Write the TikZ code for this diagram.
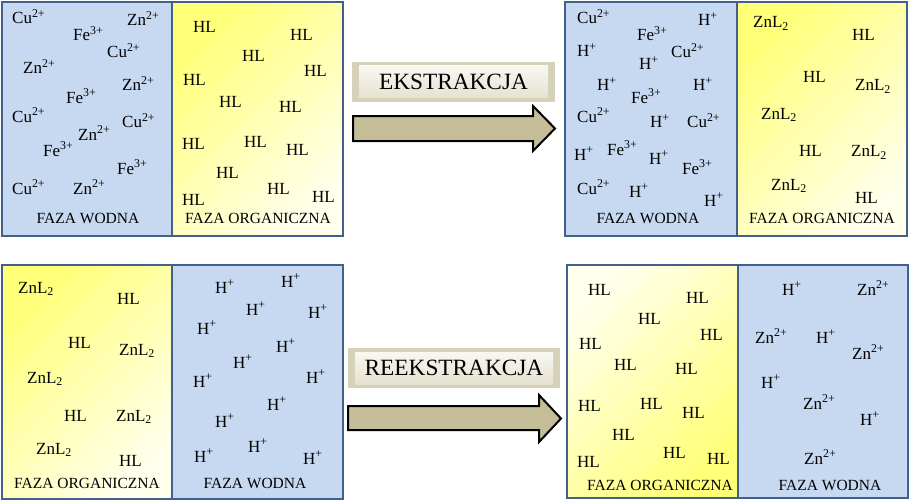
\documentclass[tikz,border=0pt]{standalone}
\usepackage{fontspec}
\setmainfont{Liberation Serif}
\definecolor{wblue}{HTML}{C6D9F1}
\definecolor{rblue}{HTML}{41618C}
\definecolor{oyel}{HTML}{FFFF78}
\definecolor{oyelb}{HTML}{FFFFEC}
\definecolor{arrtan}{HTML}{C4BD97}
\definecolor{bevel}{HTML}{D6D1B9}
\definecolor{facetop}{HTML}{F8F7F1}
\definecolor{facebot}{HTML}{E6E2D1}
\newcommand\ionCu{Cu\textsuperscript{2+}}
\newcommand\ionZn{Zn\textsuperscript{2+}}
\newcommand\ionFe{Fe\textsuperscript{3+}}
\newcommand\ionH{H\textsuperscript{+}}
\newcommand\ligHL{HL}
\newcommand\ligZn{ZnL\textsubscript{2}}
\begin{document}
\begin{tikzpicture}[x=1pt, y=-1pt,
    ion/.style={anchor=base west, inner sep=0pt, text=black, font=\fontsize{17}{20}\selectfont},
    faza/.style={anchor=base, inner sep=0pt, text=black, font=\fontsize{15.5}{18}\selectfont},
    wodna/.style={fill=wblue},
    org/.style={top color=oyel, bottom color=oyelb, shading angle=#1},
    ramka/.style={draw=rblue, line width=2.5pt},
    strzalka/.style={draw=black, line width=2pt, fill=arrtan, line join=miter},
    etykieta/.style={inner sep=0pt, text=black, font=\fontsize{23.3}{27}\selectfont}]
  \useasboundingbox (0,0) rectangle (911,503);

  \fill[wodna] (2,2) rectangle (172,236);
  \shade[org=45] (172,2) rectangle (343,236);
  \draw[ramka] (2,2) rectangle (343,236) (172,2) -- (172,236);

  \fill[wodna] (565,2) rectangle (737,236);
  \shade[org=45] (737,2) rectangle (907,236);
  \draw[ramka] (565,2) rectangle (907,236) (737,2) -- (737,236);

  \shade[org=45] (2,265) rectangle (172,499);
  \fill[wodna] (172,265) rectangle (343,499);
  \draw[ramka] (2,265) rectangle (343,499) (172,265) -- (172,499);

  \shade[org=225] (567,265) rectangle (738,498);
  \fill[wodna] (738,265) rectangle (908,498);
  \draw[ramka] (567,265) rectangle (908,498) (738,265) -- (738,498);

  \foreach \x/\y/\t [count=\i] in {12/24/\ionCu, 127/26/\ionZn, 73/41/\ionFe, 107/58/\ionCu,
      23/74/\ionZn, 122/91/\ionZn, 66/103/\ionFe, 12/122/\ionCu, 122/128/\ionCu, 78/140/\ionZn,
      43/156/\ionFe, 117/174/\ionFe, 12/194/\ionCu, 73/194/\ionZn}
    \node[ion] (wa\i) at (\x,\y) {\t};
  \foreach \x/\y [count=\i] in {193/33, 290/41, 242/62, 304/77, 183/86, 219/107, 279/113,
      182/149, 244/147, 286/155, 216/178, 267/194, 182/205, 312/202}
    \node[ion] (oa\i) at (\x,\y) {\ligHL};
  \node[faza] (fwa) at (88,223) {FAZA WODNA};
  \node[faza] (foa) at (258,223) {FAZA ORGANICZNA};

  \foreach \x/\y/\t [count=\i] in {577/24/\ionCu, 698/26/\ionH, 637/41/\ionFe, 577/57/\ionH,
      671/58/\ionCu, 639/70/\ionH, 597/91/\ionH, 693/91/\ionH, 631/103/\ionFe, 577/122/\ionCu,
      650/128/\ionH, 687/128/\ionCu, 574/160/\ionH, 607/155/\ionFe, 649/164/\ionH,
      682/174/\ionFe, 577/194/\ionCu, 629/197/\ionH, 704/206/\ionH}
    \node[ion] (wb\i) at (\x,\y) {\t};
  \foreach \x/\y/\t [count=\i] in {753/28/\ligZn, 852/41/\ligHL, 803/83/\ligHL, 855/91/\ligZn,
      761/119/\ligZn, 799/157/\ligHL, 851/157/\ligZn, 771/190/\ligZn, 855/203/\ligHL}
    \node[ion] (ob\i) at (\x,\y) {\t};
  \node[faza] (fwb) at (648,223) {FAZA WODNA};
  \node[faza] (fob) at (822,223) {FAZA ORGANICZNA};

  \foreach \x/\y/\t [count=\i] in {18/293/\ligZn, 117/304/\ligHL, 68/348/\ligHL, 119/355/\ligZn,
      27/383/\ligZn, 64/421/\ligHL, 116/421/\ligZn, 36/454/\ligZn, 119/466/\ligHL}
    \node[ion] (oc\i) at (\x,\y) {\t};
  \foreach \x/\y [count=\i] in {215/293, 281/287, 246/315, 308/318, 197/334, 276/352, 233/368,
      193/387, 306/383, 267/410, 215/427, 248/452, 194/462, 303/464}
    \node[ion] (wc\i) at (\x,\y) {\ionH};
  \node[faza] (foc) at (87,488) {FAZA ORGANICZNA};
  \node[faza] (fwc) at (255,488) {FAZA WODNA};

  \foreach \x/\y [count=\i] in {588/295, 686/303, 638/324, 700/340, 579/349, 614/370, 675/374,
      578/411, 640/409, 682/418, 612/440, 663/458, 577/467, 707/464}
    \node[ion] (od\i) at (\x,\y) {\ligHL};
  \foreach \x/\y/\t [count=\i] in {782/295/\ionH, 857/295/\ionZn, 755/343/\ionZn, 816/343/\ionH,
      852/359/\ionZn, 761/388/\ionH, 803/409/\ionZn, 860/425/\ionH, 804/464/\ionZn}
    \node[ion] (wd\i) at (\x,\y) {\t};
  \node[faza] (fod) at (660,490) {FAZA ORGANICZNA};
  \node[faza] (fwd) at (830,490) {FAZA WODNA};

  \fill[bevel] (352,62) rectangle (555,102);
  \shade[top color=facetop, bottom color=facebot] (359,66) rectangle (548,98);
  \node[etykieta] (ekstr) at (453.5,82) {EKSTRAKCJA};
  \draw[strzalka] (353,116) -- (533,116) -- (533,106) -- (555,128.5) -- (533,151)
    -- (533,141) -- (353,141) -- cycle;

  \fill[bevel] (348,348) rectangle (560,388);
  \shade[top color=facetop, bottom color=facebot] (355,352) rectangle (553,384);
  \node[etykieta] (reekstr) at (454,368) {REEKSTRAKCJA};
  \draw[strzalka] (348,406) -- (539,406) -- (539,395) -- (561,418.5) -- (539,442)
    -- (539,430) -- (348,430) -- cycle;
\end{tikzpicture}
\end{document}
